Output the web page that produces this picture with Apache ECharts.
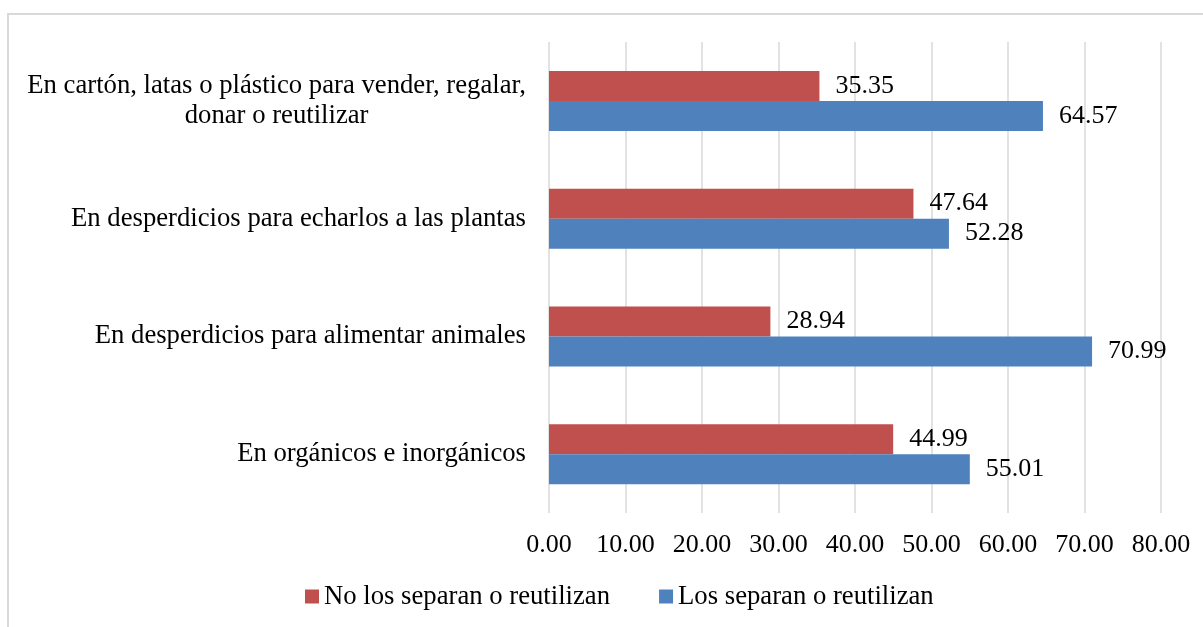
<!DOCTYPE html>
<html>
<head>
<meta charset="utf-8">
<script src="https://cdn.jsdelivr.net/npm/echarts@6/dist/echarts.min.js"></script>
<style>
  html, body { margin: 0; padding: 0; background: #fff; }
  #main { width: 1203px; height: 627px; }
</style>
</head>
<body>
<div id="main"></div>
<script type="text/javascript">
// categorías, de arriba hacia abajo
var categorias = [
    'En cartón, latas o plástico para vender, regalar,\ndonar o reutilizar',
    'En desperdicios para echarlos a las plantas',
    'En desperdicios para alimentar animales',
    'En orgánicos e inorgánicos'
];
var noSeparan = [35.35, 47.64, 28.94, 44.99];
var siSeparan = [64.57, 52.28, 70.99, 55.01];
var nombres = ['No los separan o reutilizan', 'Los separan o reutilizan'];
var ticks = [0, 10, 20, 30, 40, 50, 60, 70, 80];

var fuente = 'Liberation Serif';

var chart = echarts.init(document.getElementById('main'));

var etiqueta = {
    show: true,
    position: 'right',
    distance: 16,
    color: '#000',
    fontFamily: fuente,
    fontSize: 26,
    formatter: function (p) { return p.value.toFixed(2); }
};

var option = {
    backgroundColor: '#fff',
    textStyle: { fontFamily: fuente },
    graphic: [{
        type: 'rect',
        shape: { x: 8, y: 14, width: 1210, height: 640 },
        style: { fill: null, stroke: '#d9d9d9', lineWidth: 2 },
        silent: true
    }],
    grid: { left: 549, right: 42, top: 42, bottom: 114 },
    legend: {
        data: nombres,
        left: 300,
        top: 578,
        itemWidth: 14,
        itemHeight: 14,
        itemGap: 49,
        icon: 'rect',
        textStyle: { fontFamily: fuente, fontSize: 26.7, color: '#000' }
    },
    xAxis: {
        type: 'value',
        min: ticks[0],
        max: ticks[ticks.length - 1],
        interval: 10,
        axisLine: { show: false },
        axisTick: { show: false },
        splitLine: { lineStyle: { color: '#d9d9d9', width: 1.5 } },
        axisLabel: {
            margin: 19,
            color: '#000',
            fontFamily: fuente,
            fontSize: 26,
            formatter: function (v) { return v.toFixed(2); }
        }
    },
    yAxis: {
        type: 'category',
        data: categorias,
        inverse: true,
        axisLine: { show: false },
        axisTick: { show: false },
        axisLabel: {
            margin: 23,
            align: 'right',
            color: '#000',
            fontFamily: fuente,
            fontSize: 26.7,
            lineHeight: 30,
            formatter: function (v) {
                return v.split('\n').map(function (s) { return '{c|' + s + '}'; }).join('\n');
            },
            rich: {
                c: { align: 'center', fontFamily: fuente, fontSize: 26.7, lineHeight: 30, color: '#000' }
            }
        }
    },
    series: [
        {
            name: nombres[0],
            type: 'bar',
            data: noSeparan,
            barWidth: 30,
            barGap: '0%',
            itemStyle: { color: '#c0504d' },
            label: etiqueta
        },
        {
            name: nombres[1],
            type: 'bar',
            data: siSeparan,
            barWidth: 30,
            barGap: '0%',
            itemStyle: { color: '#4f81bd' },
            label: etiqueta
        }
    ]
};

chart.setOption(option);
</script>
</body>
</html>
